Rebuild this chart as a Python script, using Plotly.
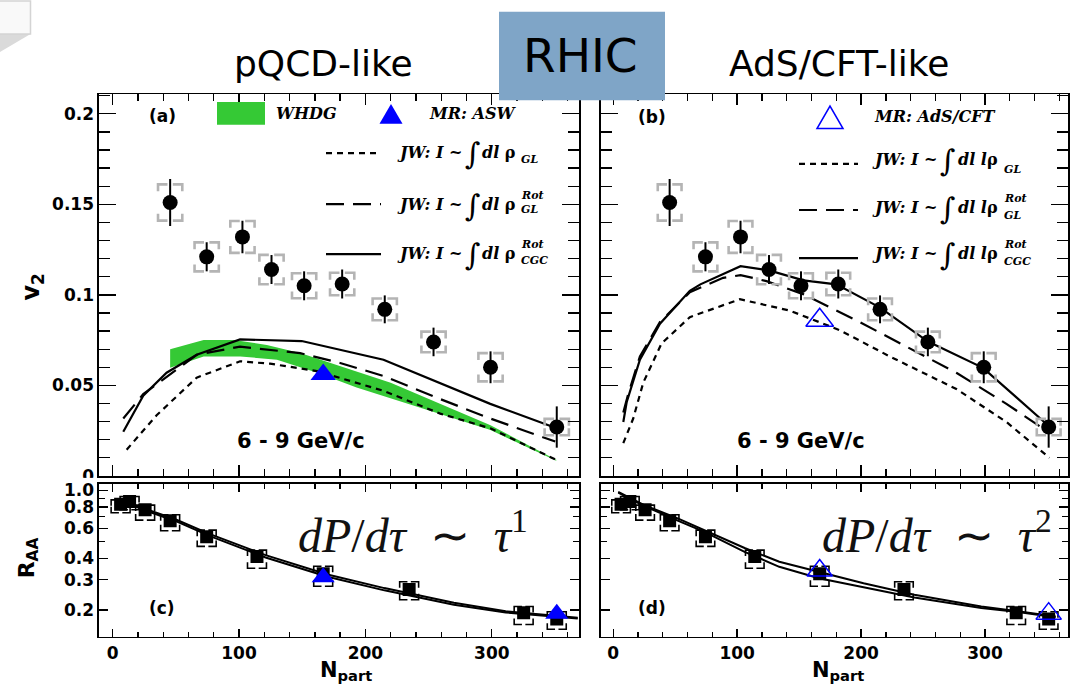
import plotly.graph_objects as go

W, H = 1071, 690

# ---------------- v2 vs Npart, 6-9 GeV/c (panels a, b) ----------------
npart_v2 = [45.5, 74.4, 102.7, 125.7, 151.5, 181.6, 215.3, 253.9, 299.0, 351.4]
v2 = [0.151, 0.121, 0.132, 0.114, 0.105, 0.106, 0.092, 0.074, 0.060, 0.027]
v2_stat = [0.013, 0.008, 0.009, 0.008, 0.008, 0.008, 0.0077, 0.0079, 0.0088, 0.0114]
v2_sys = [0.010, 0.008, 0.0088, 0.0081, 0.0069, 0.0062, 0.006, 0.0057, 0.0078, 0.0045]

# WHDG band (upper / lower edge)
whdg_hi_npart = [45.5, 72, 96, 122, 149, 180, 220, 259, 299, 333, 351]
whdg_hi = [0.070, 0.0751, 0.0751, 0.0723, 0.0678, 0.0606, 0.0515, 0.0398, 0.028, 0.0154, 0.009]
whdg_lo_npart = [45.5, 72, 101, 130, 162, 193, 246, 299, 351]
whdg_lo = [0.0597, 0.066, 0.066, 0.0642, 0.057, 0.0488, 0.0371, 0.0253, 0.0084]

# MR: ASW and MR: AdS/CFT v2 points
mr_npart = [166.6]
asw_v2 = [0.056]
ads_v2 = [0.086]

# JW curves, pQCD-like
a_gl_npart = [11.1, 34.8, 66.5, 100.8, 124.5, 161.5, 214.3, 259.2, 298.8, 350.2]
a_gl = [0.0145, 0.0335, 0.0543, 0.0633, 0.062, 0.0579, 0.047, 0.0344, 0.0263, 0.0091]
a_glrot_npart = [8.4, 24.2, 66.5, 100.8, 148.3, 180, 214.3, 259, 298.8, 350.2]
a_glrot = [0.0317, 0.0452, 0.0669, 0.0714, 0.0678, 0.0624, 0.0552, 0.0425, 0.0317, 0.019]
a_cgc_npart = [8.4, 24.2, 42.7, 66.5, 100.8, 124.5, 149.6, 214.3, 246, 298.8, 350.2]
a_cgc = [0.0244, 0.0443, 0.057, 0.0669, 0.0754, 0.0751, 0.0745, 0.0642, 0.0552, 0.0398, 0.0266]

# JW curves, AdS/CFT-like
b_gl_npart = [8.1, 16.1, 24.2, 39, 61.8, 102.2, 142.5, 182.8, 223.1, 276.9, 317.3, 352]
b_gl = [0.0181, 0.0317, 0.0515, 0.0732, 0.0877, 0.0976, 0.0913, 0.0805, 0.066, 0.048, 0.0298, 0.010]
b_glrot_npart = [8.1, 12, 21.5, 37.7, 61.8, 88.7, 102.7, 123.7, 153.2, 196.3, 236.6, 276.9, 317.3, 350.8]
b_glrot = [0.035, 0.045, 0.066, 0.085, 0.1015, 0.1094, 0.1109, 0.1076, 0.1004, 0.0859, 0.0714, 0.057, 0.0398, 0.0244]
b_cgc_npart = [8.1, 10.8, 21.5, 37.7, 61.8, 70.3, 102.7, 126.4, 153.5, 180, 215, 254, 298.4, 350.8]
b_cgc = [0.0298, 0.0407, 0.0642, 0.0841, 0.1022, 0.1058, 0.1158, 0.1134, 0.108, 0.1058, 0.0931, 0.0742, 0.0597, 0.028]

# ---------------- RAA vs Npart (panels c, d) ----------------
npart_raa = [6.3, 13.4, 25.7, 45.5, 74.4, 114.2, 166.6, 234.6, 325.2, 351.4]
raa = [0.83, 0.86, 0.77, 0.665, 0.535, 0.41, 0.325, 0.263, 0.192, 0.177]
raa_sys_hi = [0.88, 0.92, 0.82, 0.72, 0.585, 0.447, 0.36, 0.292, 0.209, 0.195]
raa_sys_lo = [0.74, 0.77, 0.67, 0.58, 0.47, 0.35, 0.275, 0.229, 0.164, 0.154]

mr_raa_npart = [166.6, 351.4]
asw_raa = [0.31, 0.19]
ads_raa = [0.34, 0.19]

c_npart = [3, 15, 30, 50, 77, 121, 170, 215, 270, 311, 368]
c_line1 = [0.88, 0.83, 0.76, 0.675, 0.555, 0.418, 0.322, 0.268, 0.22, 0.196, 0.18]
c_line2 = [0.87, 0.82, 0.745, 0.66, 0.54, 0.405, 0.312, 0.26, 0.214, 0.193, 0.178]
d_npart = [4, 25, 52, 74, 106, 134, 166, 202, 243, 297, 325, 357]
d_line1 = [0.98, 0.82, 0.685, 0.585, 0.46, 0.382, 0.334, 0.286, 0.245, 0.209, 0.197, 0.183]
d_line2 = [0.97, 0.81, 0.665, 0.57, 0.437, 0.357, 0.306, 0.27, 0.236, 0.205, 0.195, 0.181]

BLUE = "#0000ff"
GREEN = "#35c935"
GREY = "#b4b4b4"
DOT = "6px,5px"
LDASH = "18px,9px"


def px(x):
    return x / W


def py(y):
    return 1 - y / H


fig = go.Figure()


def add(trace, n):
    s = "" if n == 1 else str(n)
    trace.update(xaxis="x" + s, yaxis="y" + s, showlegend=False, hoverinfo="skip")
    fig.add_trace(trace)


def corner_brackets(xs, lo, hi, half_w, arm_frac, leg, log=False):
    """Corner-style systematic brackets around each point."""
    bx, by = [], []
    for x, b, t in zip(xs, lo, hi):
        xl, xr = x - half_w, x + half_w
        a = half_w * arm_frac
        if log:
            mid = (b * t) ** 0.5
            tl = max(t / 10 ** leg, mid)
            bl = min(b * 10 ** leg, mid)
        else:
            mid = 0.5 * (b + t)
            tl = max(t - leg, mid)
            bl = min(b + leg, mid)
        bx += [xl, xl, xl + a, None, xr - a, xr, xr, None,
               xl, xl, xl + a, None, xr - a, xr, xr, None]
        by += [tl, t, t, None, t, t, tl, None,
               bl, b, b, None, b, b, bl, None]
    return bx, by


# ---------- panel (a) ----------
add(go.Scatter(x=whdg_hi_npart + whdg_lo_npart[::-1], y=whdg_hi + whdg_lo[::-1],
               fill="toself", fillcolor=GREEN, mode="lines", line=dict(width=0, color=GREEN)), 1)
add(go.Scatter(x=a_gl_npart, y=a_gl, mode="lines", line=dict(color="black", width=2.2, dash=DOT)), 1)
add(go.Scatter(x=a_glrot_npart, y=a_glrot, mode="lines", line=dict(color="black", width=2.2, dash=LDASH)), 1)
add(go.Scatter(x=a_cgc_npart, y=a_cgc, mode="lines", line=dict(color="black", width=2.2)), 1)

# ---------- panel (b) ----------
add(go.Scatter(x=b_gl_npart, y=b_gl, mode="lines", line=dict(color="black", width=2.2, dash=DOT)), 2)
add(go.Scatter(x=b_glrot_npart, y=b_glrot, mode="lines", line=dict(color="black", width=2.2, dash=LDASH)), 2)
add(go.Scatter(x=b_cgc_npart, y=b_cgc, mode="lines", line=dict(color="black", width=2.2)), 2)

# data points with stat errors and systematic brackets, both v2 panels
v2_lo = [v - s for v, s in zip(v2, v2_sys)]
v2_hi = [v + s for v, s in zip(v2, v2_sys)]
for n in (1, 2):
    bx, by = corner_brackets(npart_v2, v2_lo, v2_hi, 9.6, 0.78, 0.0038)
    add(go.Scatter(x=bx, y=by, mode="lines", line=dict(color=GREY, width=2.6)), n)
    add(go.Scatter(x=npart_v2, y=v2, mode="markers",
                   marker=dict(symbol="circle", size=15, color="black"),
                   error_y=dict(type="data", array=v2_stat, color="black", thickness=2, width=0)), n)

add(go.Scatter(x=mr_npart, y=asw_v2, mode="markers",
               marker=dict(symbol="triangle-up", size=22, color=BLUE)), 1)
add(go.Scatter(x=mr_npart, y=ads_v2, mode="markers",
               marker=dict(symbol="triangle-up-open", size=24, color=BLUE, line=dict(width=1.5))), 2)

# ---------- panels (c), (d) ----------
for n, l1, l2, xs in ((3, c_line1, c_line2, c_npart), (4, d_line1, d_line2, d_npart)):
    add(go.Scatter(x=xs, y=l1, mode="lines", line=dict(color="black", width=2)), n)
    add(go.Scatter(x=xs, y=l2, mode="lines", line=dict(color="black", width=2)), n)
    bx, by = corner_brackets(npart_raa, raa_sys_lo, raa_sys_hi, 7.5, 0.82, 0.035, log=True)
    add(go.Scatter(x=bx, y=by, mode="lines", line=dict(color="black", width=1.6)), n)
    add(go.Scatter(x=npart_raa, y=raa, mode="markers",
                   marker=dict(symbol="square", size=13, color="black")), n)

add(go.Scatter(x=mr_raa_npart, y=asw_raa, mode="markers",
               marker=dict(symbol="triangle-up", size=20, color=BLUE)), 3)
add(go.Scatter(x=mr_raa_npart, y=ads_raa, mode="markers",
               marker=dict(symbol="triangle-up-open", size=22, color=BLUE, line=dict(width=1.5))), 4)

# ---------------- axes ----------------
TICKFONT = dict(family="DejaVu Sans", size=17, color="black", weight="bold")
x_major = [0, 100, 200, 300]
x_minor = [v for v in range(0, 380, 20) if v % 100]


def xcfg(domain, rng, anchor, labels, tl, mtl):
    return dict(domain=domain, range=rng, anchor=anchor, showline=True, linecolor="black",
                linewidth=1.6, mirror="ticks", ticks="inside", ticklen=tl, tickwidth=1.4,
                tickcolor="black", tickmode="array", tickvals=x_major, showticklabels=labels,
                tickfont=TICKFONT, showgrid=False, zeroline=False, fixedrange=True,
                minor=dict(tickmode="array", tickvals=x_minor, ticks="inside", ticklen=mtl,
                           tickwidth=1.3, tickcolor="black", showgrid=False))


v2_major = [0, 0.05, 0.1, 0.15, 0.2]
v2_minor = [round(0.01 * i, 2) for i in range(1, 22) if i % 5]


def ycfg_v2(domain, anchor, labels):
    return dict(domain=domain, range=[0, 0.2108], anchor=anchor, showline=True, linecolor="black",
                linewidth=1.6, mirror="ticks", ticks="inside", ticklen=17, tickwidth=1.4,
                tickcolor="black", tickmode="array", tickvals=v2_major,
                ticktext=["0", "0.05", "0.1", "0.15", "0.2"], showticklabels=labels,
                tickfont=TICKFONT, showgrid=False, zeroline=False, fixedrange=True,
                minor=dict(tickmode="array", tickvals=v2_minor, ticks="inside", ticklen=11,
                           tickwidth=1.3, tickcolor="black", showgrid=False))


raa_major = [0.2, 0.3, 0.4, 0.6, 0.8, 1.0]
raa_minor = [0.5, 0.7, 0.9]


def ycfg_raa(domain, anchor, labels):
    return dict(domain=domain, type="log", range=[-0.857, 0.0386], anchor=anchor, showline=True,
                linecolor="black", linewidth=1.6, mirror="ticks", ticks="inside", ticklen=9,
                tickwidth=1.4, tickcolor="black", tickmode="array", tickvals=raa_major,
                ticktext=["0.2", "0.3", "0.4", "0.6", "0.8", "1.0"], showticklabels=labels,
                tickfont=TICKFONT, showgrid=False, zeroline=False, fixedrange=True,
                minor=dict(tickmode="array", tickvals=raa_minor, ticks="inside", ticklen=6,
                           tickwidth=1.3, tickcolor="black", showgrid=False))


dom_xa = [px(99), px(579)]
dom_xb = [px(601), px(1068)]
dom_ytop = [py(482), py(93)]
dom_ybot = [py(646), py(490)]

fig.update_layout(
    width=W, height=H, autosize=False,
    margin=dict(l=0, r=0, t=0, b=0),
    paper_bgcolor="white", plot_bgcolor="white",
    showlegend=False,
    xaxis=xcfg(dom_xa, [-10.8, 369], "y", False, 11, 7),
    yaxis=ycfg_v2(dom_ytop, "x", True),
    xaxis2=xcfg(dom_xb, [-9.9, 367], "y2", False, 11, 7),
    yaxis2=ycfg_v2(dom_ytop, "x2", False),
    xaxis3=xcfg(dom_xa, [-10.8, 369], "y3", True, 8, 5),
    yaxis3=ycfg_raa(dom_ybot, "x3", True),
    xaxis4=xcfg(dom_xb, [-9.9, 367], "y4", True, 8, 5),
    yaxis4=ycfg_raa(dom_ybot, "x4", False),
)

# ---------------- decorations & text ----------------
shapes = []
annotations = []


def text(x, y, s, size, family="DejaVu Sans", xanchor="center", yanchor="middle",
         weight="normal", style="normal", color="black", angle=0):
    annotations.append(dict(x=px(x), y=py(y), xref="paper", yref="paper", text=s,
                            showarrow=False, xanchor=xanchor, yanchor=yanchor, textangle=angle,
                            font=dict(family=family, size=size, color=color, weight=weight,
                                      style=style)))


# slide page-corner ornament
shapes.append(dict(type="path", xref="paper", yref="paper",
                   path=f"M 0 {py(31.5)} L {px(30.5)} {py(31.5)} L 0 {py(50)} Z",
                   fillcolor="#dadada", line=dict(width=0), layer="above"))
shapes.append(dict(type="rect", xref="paper", yref="paper", x0=px(-2), x1=px(30.5),
                   y0=py(31.5), y1=py(-2), fillcolor="#f9f9f9",
                   line=dict(color="#d4d4d4", width=1.5), layer="above"))

# the lower RAA panel sits over the foot of the v2 axis labels
shapes.append(dict(type="rect", xref="paper", yref="paper", x0=px(78), x1=px(97),
                   y0=py(489), y1=py(484), fillcolor="white", line=dict(width=0), layer="above"))

# RHIC box
shapes.append(dict(type="rect", xref="paper", yref="paper", x0=px(499), x1=px(665),
                   y0=py(99), y1=py(9), fillcolor="#7fa5c7", line=dict(width=0), layer="above"))
text(580, 53, "RHIC", 47)
text(323, 62, "pQCD-like", 36)
text(839, 62, "AdS/CFT-like", 36)

# legend, panel (a)
shapes.append(dict(type="rect", xref="paper", yref="paper", x0=px(217), x1=px(265),
                   y0=py(124), y1=py(101), fillcolor=GREEN, line=dict(width=0)))
text(274, 113, "WHDG", 16, "DejaVu Serif", xanchor="left", weight="bold", style="italic")
shapes.append(dict(type="path", xref="paper", yref="paper",
                   path=f"M {px(379.5)} {py(123)} L {px(402.5)} {py(123)} L {px(391)} {py(103)} Z",
                   fillcolor=BLUE, line=dict(width=0)))
text(427, 113, "MR: ASW", 16, "DejaVu Serif", xanchor="left", weight="bold", style="italic")

# legend, panel (b)
shapes.append(dict(type="path", xref="paper", yref="paper",
                   path=f"M {px(817)} {py(128)} L {px(843)} {py(128)} L {px(830)} {py(105)} Z",
                   fillcolor="rgba(0,0,0,0)", line=dict(width=1.5, color=BLUE)))
text(872, 116, "MR: AdS/CFT", 16, "DejaVu Serif", xanchor="left", weight="bold", style="italic")


def jw_entry(x0, x1, y_line, dash, x_int, x_rho, y_txt, mid, sup, sub, y_sup, y_sub):
    shp = dict(type="line", xref="paper", yref="paper", x0=px(x0), x1=px(x1),
               y0=py(y_line), y1=py(y_line), line=dict(color="black", width=2.2))
    if dash:
        shp["line"]["dash"] = dash
    shapes.append(shp)
    text(x_int - 9, y_txt, "JW: I ~", 16, "DejaVu Serif", xanchor="right",
         weight="bold", style="italic")
    text(x_int, y_txt + 1, "∫", 30, "DejaVu Serif")
    text(x_rho, y_txt, mid, 16, "DejaVu Serif", xanchor="right", weight="bold", style="italic")
    if sup:
        text(x_rho + 2, y_sup, sup, 11, "DejaVu Serif", xanchor="left", weight="bold", style="italic")
    text(x_rho + 2, y_sub, sub, 11, "DejaVu Serif", xanchor="left", weight="bold", style="italic")


jw_entry(326, 381, 153, DOT, 472.5, 517, 152, "dl <span style='font-style:normal'>ρ</span>",
         None, "GL", None, 160)
jw_entry(326, 381, 205, LDASH, 472.5, 517, 205, "dl <span style='font-style:normal'>ρ</span>",
         "Rot", "GL", 196, 210)
jw_entry(326, 381, 256, None, 472.5, 517, 255, "dl <span style='font-style:normal'>ρ</span>",
         "Rot", "CGC", 246.5, 262)

jw_entry(799, 858, 164, DOT, 947.5, 1000, 160, "dl l<span style='font-style:normal'>ρ</span>",
         None, "GL", None, 169.5)
jw_entry(799, 858, 211, LDASH, 947.5, 1000, 208, "dl l<span style='font-style:normal'>ρ</span>",
         "Rot", "GL", 199.5, 216.5)
jw_entry(799, 858, 260, None, 947.5, 1000, 255, "dl l<span style='font-style:normal'>ρ</span>",
         "Rot", "CGC", 246.5, 263.5)

# panel tags and kinematic labels
text(162, 115, "(a)", 17, weight="bold")
text(652, 116.5, "(b)", 17, weight="bold")
text(162, 616.5, "(c)", 17, weight="bold")
text(651.5, 616.5, "(d)", 17, weight="bold")
text(301, 446, "6 - 9 GeV/c", 21, weight="bold")
text(801, 446, "6 - 9 GeV/c", 21, weight="bold")

# formulas
text(413, 539, "<i>dP</i>/<i>dτ</i>  ∼  <i>τ</i><sup>1</sup>", 48, "Liberation Serif", color="#111111")
text(937, 539, "<i>dP</i>/<i>dτ</i>  ∼  <i>τ</i><sup>2</sup>", 48, "Liberation Serif", color="#111111")

# axis titles
text(33, 290, "v<sub>2</sub>", 24, weight="bold", angle=-90)
text(28, 566, "R<sub>AA</sub>", 22, weight="bold", angle=-90)
text(346, 681, "N<sub>part</sub>", 21, weight="bold")
text(838, 681, "N<sub>part</sub>", 21, weight="bold")

fig.update_layout(shapes=shapes, annotations=annotations)

fig.write_html("out.html", config=dict(displayModeBar=False, staticPlot=True))
